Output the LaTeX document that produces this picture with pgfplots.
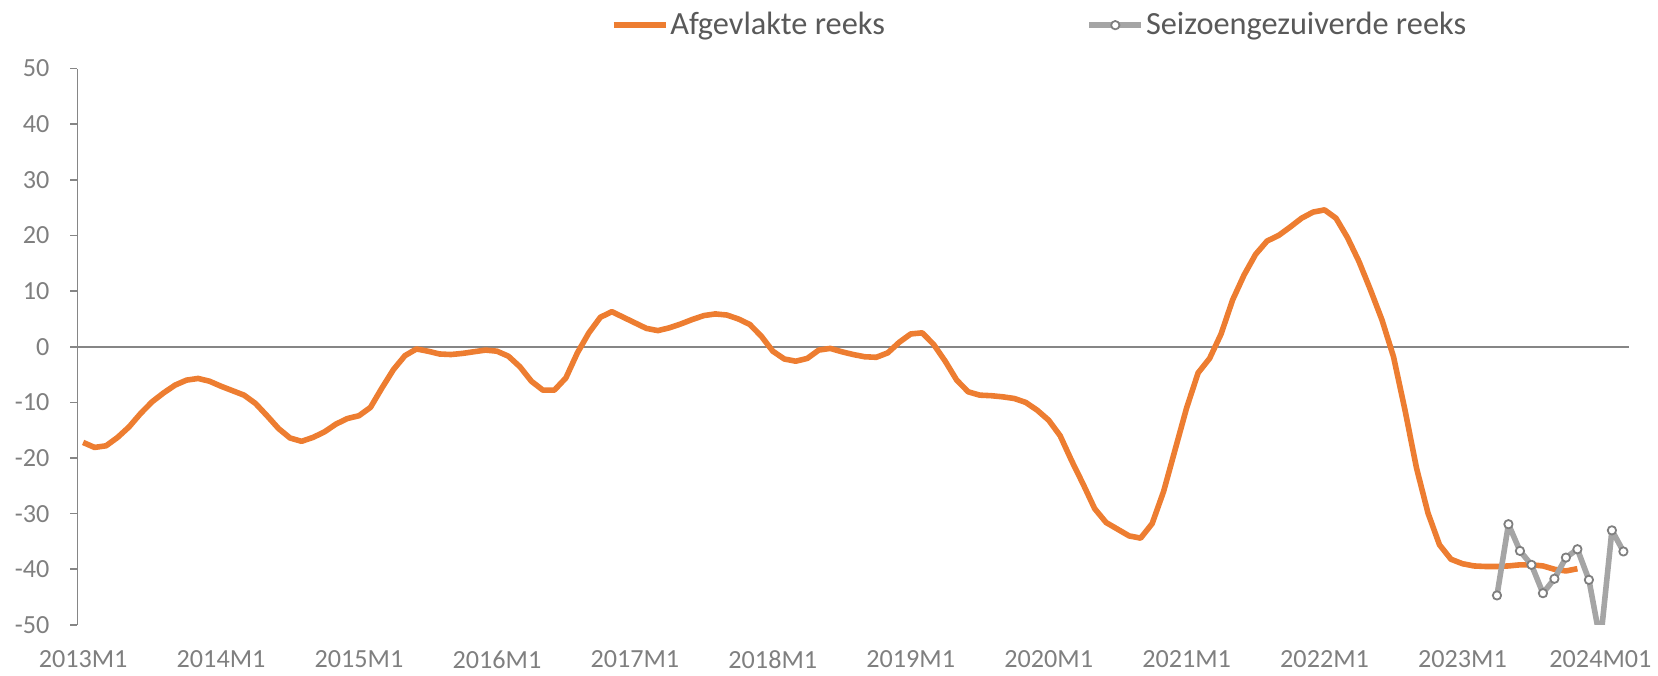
\documentclass[border=0pt]{standalone}
\usepackage{pgfplots}
\pgfplotsset{compat=1.18}
\usepackage{pgfplotstable}
\usepackage{fontspec}
\setmainfont{Carlito}
\definecolor{orng}{HTML}{ED7D31}
\definecolor{gry}{HTML}{A5A5A5}
\definecolor{mkgry}{HTML}{7F7F7F}
\definecolor{axgry}{HTML}{868686}
\definecolor{tickgry}{HTML}{7F7F7F}
\definecolor{legtxt}{HTML}{595959}

\pgfplotstableread{
m v
0 -17.2
1 -18.1
2 -17.8
3 -16.3
4 -14.4
5 -12.0
6 -9.9
7 -8.3
8 -6.9
9 -6.0
10 -5.7
11 -6.2
12 -7.1
13 -7.9
14 -8.7
15 -10.2
16 -12.4
17 -14.7
18 -16.4
19 -17.0
20 -16.3
21 -15.3
22 -13.9
23 -12.9
24 -12.4
25 -10.9
26 -7.4
27 -4.1
28 -1.6
29 -0.4
30 -0.8
31 -1.3
32 -1.4
33 -1.2
34 -0.9
35 -0.6
36 -0.8
37 -1.7
38 -3.6
39 -6.2
40 -7.8
41 -7.8
42 -5.6
43 -1.1
44 2.5
45 5.3
46 6.3
47 5.3
48 4.3
49 3.3
50 2.9
51 3.4
52 4.1
53 4.9
54 5.6
55 5.9
56 5.7
57 5.0
58 4.0
59 1.9
60 -0.8
61 -2.2
62 -2.6
63 -2.1
64 -0.6
65 -0.3
66 -0.9
67 -1.4
68 -1.8
69 -1.9
70 -1.1
71 0.8
72 2.3
73 2.5
74 0.4
75 -2.6
76 -6.0
77 -8.1
78 -8.7
79 -8.8
80 -9.0
81 -9.3
82 -10.0
83 -11.4
84 -13.2
85 -16.0
86 -20.5
87 -24.7
88 -29.1
89 -31.6
90 -32.8
91 -34.0
92 -34.4
93 -31.8
94 -26.0
95 -18.5
96 -11.0
97 -4.7
98 -2.1
99 2.3
100 8.4
101 12.9
102 16.6
103 19.0
104 20.0
105 21.5
106 23.1
107 24.2
108 24.6
109 23.1
110 19.6
111 15.3
112 10.2
113 4.8
114 -1.8
115 -11.4
116 -21.8
117 -29.9
118 -35.6
119 -38.2
120 -39.0
121 -39.4
122 -39.5
123 -39.5
124 -39.4
125 -39.2
126 -39.2
127 -39.4
128 -40.0
129 -40.3
130 -39.9
}\smoothed

\pgfplotstableread{
m v
123 -44.7
124 -31.9
125 -36.7
126 -39.2
127 -44.3
128 -41.7
129 -37.9
130 -36.4
131 -41.9
132 -53.0
133 -33.0
134 -36.8
}\seasonal

\begin{document}
\begin{tikzpicture}
\begin{axis}[
  scale only axis,
  width=777.25pt, height=278.65pt,
  xmin=-0.5, xmax=134.5,
  ymin=-50, ymax=50,
  ytick={-50,-40,...,50},
  xtick={0,12,24,36,48,60,72,84,96,108,120,132},
  xticklabels={2013M1,2014M1,2015M1,2016M1,2017M1,2018M1,2019M1,2020M1,2021M1,2022M1,2023M1,2024M01},
  axis x line=bottom,
  axis y line=left,
  x axis line style={draw=none,-},
  y axis line style={draw=axgry,line width=0.8pt,-},
  xtick style={draw=none},
  ytick style={draw=axgry,line width=0.8pt},
  tick align=outside,
  major tick length=3.5pt,
  /pgf/number format/assume math mode=true,
  tick label style={font=\fontsize{13.1}{15}\selectfont, text=tickgry},
  yticklabel style={xshift=-7pt},
  xticklabel style={yshift=-6pt},
  clip=true,
  legend columns=2,
  legend style={draw=none, fill=none, at={(0.62,1.078)}, anchor=center,
    font=\fontsize{16.2}{18}\selectfont, text=legtxt,
    nodes={inner xsep=1pt},
    /tikz/every even column/.append style={column sep=100pt},
    /tikz/every odd column/.append style={column sep=0pt}},
  legend image code/.code={
    \draw[#1,mark=none] (0pt,0pt) -- (26pt,0pt);
    \draw[#1,only marks] plot coordinates {(13pt,0pt)};
  },
]
\draw[axgry,line width=0.8pt] (axis cs:-0.5,0) -- (axis cs:134.5,0);
\addplot[orng, line width=2.8pt, mark=none, line join=round] table[x=m,y=v] {\smoothed};
\addlegendentry{Afgevlakte reeks}
\addplot[gry, line width=2.8pt, line join=round, mark=*, mark size=2.1pt,
  mark options={fill=white, draw=mkgry, line width=0.9pt}] table[x=m,y=v] {\seasonal};
\addlegendentry{Seizoengezuiverde reeks}
\end{axis}
\useasboundingbox (-38.75pt,-23.5pt) rectangle (790.25pt,313pt);
\end{tikzpicture}
\end{document}
